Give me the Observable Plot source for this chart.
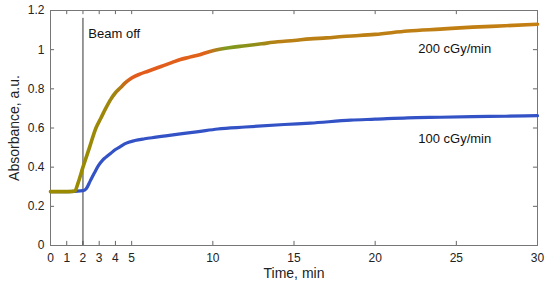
<!DOCTYPE html>
<html>
<head>
<meta charset="utf-8">
<script src="https://cdn.jsdelivr.net/npm/d3@7"></script>
<script src="https://cdn.jsdelivr.net/npm/@observablehq/plot@0.6"></script>
<style>
  html, body { margin: 0; padding: 0; background: #fff; }
  #chart svg { display: block; }
</style>
</head>
<body>
<div id="chart"></div>
<script>
// ---- data ----
const t200 = [0, 0.5, 1, 1.3, 1.5, 1.7, 2.0, 2.4, 2.8, 3.1, 3.4, 3.7, 4.0, 4.3, 4.6, 5.0, 5.5, 6.0, 6.5, 7.0, 7.5, 8.0, 8.5, 9, 10, 11, 12, 13, 14, 15, 16, 17, 18, 19, 20, 22, 24, 26, 28, 30];
const v200 = [0.275, 0.275, 0.275, 0.276, 0.278, 0.32, 0.40, 0.50, 0.60, 0.65, 0.70, 0.745, 0.78, 0.805, 0.83, 0.855, 0.875, 0.89, 0.905, 0.92, 0.935, 0.95, 0.96, 0.97, 0.995, 1.01, 1.02, 1.03, 1.04, 1.047, 1.055, 1.06, 1.067, 1.072, 1.078, 1.095, 1.105, 1.115, 1.122, 1.13];

const t100 = [0, 1, 2, 2.2, 2.45, 2.7, 2.97, 3.2, 3.4, 3.7, 4.0, 4.3, 4.6, 5.2, 5.8, 6.5, 7.1, 8, 9, 10.3, 12, 14.4, 16, 18.5, 20, 22, 24, 26, 28, 30];
const v100 = [0.275, 0.275, 0.28, 0.29, 0.33, 0.37, 0.41, 0.435, 0.45, 0.47, 0.49, 0.505, 0.52, 0.536, 0.545, 0.553, 0.56, 0.57, 0.58, 0.595, 0.605, 0.618, 0.625, 0.64, 0.645, 0.652, 0.655, 0.658, 0.66, 0.663];

const seriesNames = ["200 cGy/min", "100 cGy/min"];
const labelTime = [24.9, 24.9];
const labelValue = [1.006, 0.546];

const beamOffTime = 2;
const beamOffTop = 1.16;
const beamOffLabel = "Beam off";
const beamOffLabelPos = [2.33, 1.08];

const xTicks = [0, 1, 2, 3, 4, 5, 10, 15, 20, 25, 30];
const yTicks = [0, 0.2, 0.4, 0.6, 0.8, 1, 1.2];
const xTitle = "Time, min";
const yTitle = "Absorbance, a.u.";

// gradient stops for the 200 cGy/min trace (time, colour)
const gradT = [0, 2.0, 4.0, 5.0, 9.5, 10.8, 12.5, 14, 30];
const gradC = ["#998a00", "#998a00", "#a08510", "#e35a1c", "#e0621a", "#7f9a1e", "#8f8e18", "#b88015", "#c47e12"];

// ---- tables built from the arrays ----
const d200 = t200.map((t, i) => ({t, v: v200[i]}));
const d100 = t100.map((t, i) => ({t, v: v100[i]}));
const labels = seriesNames.map((s, i) => ({s, t: labelTime[i], v: labelValue[i]}));

const font = "'Liberation Sans', Arial, sans-serif";
const tickLenX = 0.021; // inward tick length in y units
const tickLenY = 0.25;  // inward tick length in x units

const plot = Plot.plot({
  width: 550,
  height: 285,
  marginLeft: 50,
  marginRight: 13,
  marginTop: 10,
  marginBottom: 40,
  style: {fontFamily: font, fontSize: "12px", color: "#222", background: "#fff"},
  x: {domain: [0, 30]},
  y: {domain: [0, 1.2]},
  marks: [
    // inward ticks on all four sides
    Plot.ruleX(xTicks, {x: d => d, y1: 0, y2: tickLenX, stroke: "#666"}),
    Plot.ruleX(xTicks, {x: d => d, y1: 1.2 - tickLenX, y2: 1.2, stroke: "#666"}),
    Plot.ruleY(yTicks, {y: d => d, x1: 0, x2: tickLenY, stroke: "#666"}),
    Plot.ruleY(yTicks, {y: d => d, x1: 30 - tickLenY, x2: 30, stroke: "#666"}),
    Plot.axisX(xTicks, {tickSize: 0, tickPadding: 8, label: null, fill: "#222", fontSize: 12}),
    Plot.axisY(yTicks, {tickSize: 0, tickPadding: 6, label: null, tickFormat: d => String(d), fill: "#222", fontSize: 12}),
    Plot.frame({stroke: "#777"}),
    // beam off line
    Plot.ruleX([beamOffTime], {y1: 0, y2: beamOffTop, stroke: "#333", strokeWidth: 1}),
    Plot.text([beamOffLabel], {x: beamOffLabelPos[0], y: beamOffLabelPos[1], text: d => d, textAnchor: "start", fontSize: 13, fill: "#111"}),
    // data
    Plot.line(d100, {x: "t", y: "v", stroke: "#3352c6", strokeWidth: 3.2, curve: "monotone-x"}),
    Plot.line(d200, {x: "t", y: "v", stroke: "url(#g200)", strokeWidth: 3.6, curve: "monotone-x"}),
    Plot.text(labels, {x: "t", y: "v", text: "s", fontSize: 13, fill: "#111"}),
    // axis titles
    Plot.text([xTitle], {frameAnchor: "bottom", dy: 32, text: d => d, fontSize: 14, fill: "#222"}),
    Plot.text([yTitle], {frameAnchor: "left", textAnchor: "middle", dx: -36, rotate: -90, text: d => d, fontSize: 14, fill: "#222"})
  ]
});

// gradient along the time axis for the 200 cGy/min trace
const xs = plot.scale("x");
const svgNS = "http://www.w3.org/2000/svg";
const defs = document.createElementNS(svgNS, "defs");
const lg = document.createElementNS(svgNS, "linearGradient");
lg.setAttribute("id", "g200");
lg.setAttribute("gradientUnits", "userSpaceOnUse");
lg.setAttribute("x1", xs.apply(0));
lg.setAttribute("x2", xs.apply(30));
lg.setAttribute("y1", 0);
lg.setAttribute("y2", 0);
gradT.forEach((t, i) => {
  const st = document.createElementNS(svgNS, "stop");
  st.setAttribute("offset", (t / 30));
  st.setAttribute("stop-color", gradC[i]);
  lg.appendChild(st);
});
defs.appendChild(lg);
plot.insertBefore(defs, plot.firstChild);

document.getElementById("chart").appendChild(plot);
</script>
</body>
</html>
